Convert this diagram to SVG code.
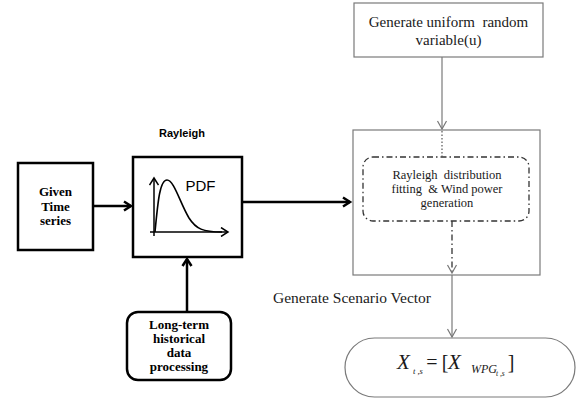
<svg xmlns="http://www.w3.org/2000/svg" width="584" height="403" viewBox="0 0 584 403">
<defs>
<marker id="blk" markerWidth="12" markerHeight="12" refX="9" refY="6" orient="auto" markerUnits="userSpaceOnUse">
<path d="M2,1.5 L9,6 L2,10.5" fill="none" stroke="#000" stroke-width="2.5"/>
</marker>
<marker id="gry" markerWidth="12" markerHeight="12" refX="9" refY="6" orient="auto" markerUnits="userSpaceOnUse">
<path d="M1,1.5 L9,6 L1,10.5" fill="none" stroke="#777" stroke-width="1.2"/>
</marker>
<marker id="ax" markerWidth="10" markerHeight="10" refX="8" refY="5" orient="auto" markerUnits="userSpaceOnUse">
<path d="M1,0.5 L8,5 L1,9.5" fill="none" stroke="#000" stroke-width="1.5"/>
</marker>
</defs>
<style>
.bold{fill:#fff;stroke:#000;stroke-width:2.5}
.thin{fill:#fff;stroke:#7a7a7a;stroke-width:1.2}
.open{fill:none;stroke:#7a7a7a;stroke-width:1.2}
.sb{font-family:"Liberation Serif",serif;font-weight:bold;font-size:13px;fill:#000;text-anchor:middle}
.sr{font-family:"Liberation Serif",serif;fill:#1a1a1a;text-anchor:middle}
.ss{font-family:"Liberation Sans",Arial,sans-serif;fill:#000}
.fi{font-family:"Liberation Serif",serif;font-style:italic;fill:#1a1a1a}
</style>
<rect width="584" height="403" fill="#fff"/>

<g id="given">
<rect class="bold" x="18" y="163" width="75" height="87"/>
<text class="sb" x="55.5" y="196">Given</text>
<text class="sb" x="55.5" y="211">Time</text>
<text class="sb" x="55.5" y="225">series</text>
</g>

<g id="rayleigh">
<text class="ss" x="182" y="137" font-size="11" font-weight="bold" text-anchor="middle">Rayleigh</text>
<rect class="bold" x="133" y="157" width="109" height="100"/>
<line x1="150" y1="232" x2="228" y2="232" stroke="#000" stroke-width="1.5" marker-end="url(#ax)"/>
<line x1="154" y1="236" x2="154" y2="178" stroke="#000" stroke-width="1.5" marker-end="url(#ax)"/>
<path d="M155,232 C158,200 160,180 167,180 C174,180 180,203 189,218 C196,229 203,232 222,232" fill="none" stroke="#000" stroke-width="1.6"/>
<text class="ss" x="200.5" y="191" font-size="15" text-anchor="middle">PDF</text>
</g>

<g id="longterm">
<rect class="bold" x="127" y="312" width="104" height="68" rx="11"/>
<text class="sb" x="179" y="329" font-size="12.5">Long-term</text>
<text class="sb" x="179" y="343" font-size="12.5">historical</text>
<text class="sb" x="179" y="357" font-size="12.5">data</text>
<text class="sb" x="179" y="371" font-size="12.5">processing</text>
</g>

<g id="uniform">
<rect class="thin" x="354" y="3" width="189" height="54"/>
<text class="sr" x="448.5" y="27" font-size="15" xml:space="preserve">Generate uniform  random</text>
<text class="sr" x="448.5" y="45" font-size="15">variable(u)</text>
</g>

<g id="fitting">
<rect class="open" x="353" y="130" width="187" height="145"/>
<rect x="363" y="157" width="166" height="64" rx="10" fill="none" stroke="#333" stroke-width="1.3" stroke-dasharray="6,3,1.5,3"/>
<text class="sr" x="447" y="179" font-size="12.5" xml:space="preserve">Rayleigh  distribution</text>
<text class="sr" x="447" y="193" font-size="12.5" xml:space="preserve">fitting  &amp; Wind power</text>
<text class="sr" x="447" y="207" font-size="12.5">generation</text>
</g>

<text class="sr" x="352" y="303" font-size="15.5">Generate Scenario Vector</text>

<g id="scenario">
<rect class="thin" x="345" y="338" width="230" height="59" rx="29.5"/>
<text class="fi" x="397" y="369" font-size="21">X</text>
<text class="fi" x="413" y="374" font-size="8.5" xml:space="preserve">t ,s</text>
<text class="sr" x="432" y="369" font-size="20">=</text>
<text class="sr" x="445" y="369" font-size="20">[</text>
<text class="fi" x="448" y="369" font-size="21">X</text>
<text class="fi" x="471" y="373" font-size="12">WPG</text>
<text class="fi" x="496" y="376" font-size="7.5" xml:space="preserve">t ,s</text>
<text class="sr" x="511" y="369" font-size="20">]</text>
</g>

<g id="connectors">
<line x1="93" y1="206" x2="131" y2="206" stroke="#000" stroke-width="2.5" marker-end="url(#blk)"/>
<line x1="242" y1="202" x2="350" y2="202" stroke="#000" stroke-width="2.5" marker-end="url(#blk)"/>
<line x1="187" y1="312" x2="187" y2="259" stroke="#000" stroke-width="2.5" marker-end="url(#blk)"/>
<line x1="442" y1="57" x2="442" y2="129" stroke="#7a7a7a" stroke-width="1.2" marker-end="url(#gry)"/>
<line x1="442" y1="131" x2="442" y2="157" stroke="#555" stroke-width="1.2" stroke-dasharray="1.5,2"/>
<line x1="452" y1="221" x2="452" y2="273" stroke="#333" stroke-width="1.3" stroke-dasharray="6,3,1.5,3" marker-end="url(#gry)"/>
<line x1="452" y1="275" x2="452" y2="337" stroke="#7a7a7a" stroke-width="1.2" marker-end="url(#gry)"/>
</g>
</svg>
